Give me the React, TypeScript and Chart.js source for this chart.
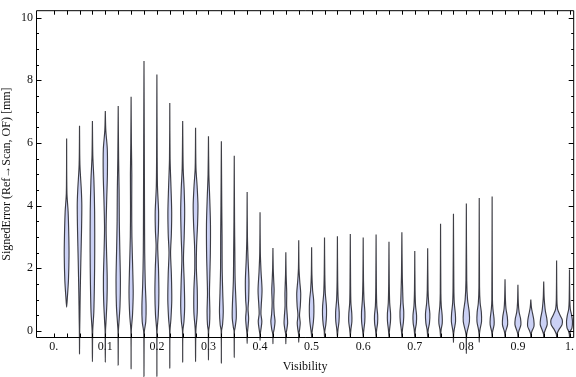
import React, { useEffect, useRef } from "react";
import { Chart, registerables } from "chart.js";

Chart.register(...registerables);

// Category positions (Visibility bins)
const visibility = [
  0.025, 0.05, 0.075, 0.1, 0.125, 0.15, 0.175, 0.2, 0.225, 0.25,
  0.275, 0.3, 0.325, 0.35, 0.375, 0.4, 0.425, 0.45, 0.475, 0.5,
  0.525, 0.55, 0.575, 0.6, 0.625, 0.65, 0.675, 0.7, 0.725, 0.75,
  0.775, 0.8, 0.825, 0.85, 0.875, 0.9, 0.925, 0.95, 0.975, 1.0,
];

// Violin outlines: [signed error (mm), relative density] from max down to min
const errorProfiles: number[][][] = [
  [[6.14,0],[4.4,0.3],[3.8,1.5],[3.0,2.2],[2.4,2.4],[1.6,1.8],[1.1,0.8],[0.76,0]],
  [[6.55,0],[5.3,0.4],[4.5,1.8],[4.0,2.3],[3.2,2.0],[2.2,1.3],[1.2,0.7],[0.4,0.35],[0,0.15],[-0.73,0]],
  [[6.70,0],[5.6,0.4],[4.8,1.5],[3.8,2.2],[2.5,2.3],[1.5,2.0],[0.6,1.4],[0,0.3],[-0.98,0]],
  [[7.02,0],[6.4,0.5],[5.8,2.0],[5.0,2.1],[4.2,1.4],[3.3,0.8],[2.6,1.2],[1.7,1.9],[1.0,1.7],[0.3,0.7],[0,0.2],[-1.0,0]],
  [[7.18,0],[5.5,0.4],[4.5,0.9],[3.5,1.1],[2.6,1.6],[1.6,2.2],[0.8,1.8],[0.2,0.6],[0,0.2],[-1.09,0]],
  [[7.47,0],[6.0,0.3],[5.0,0.7],[4.0,0.6],[3.0,0.8],[2.0,1.6],[1.2,2.1],[0.5,1.4],[0,0.2],[-1.21,0]],
  [[8.61,0],[6.0,0.3],[4.0,0.5],[2.5,0.7],[1.5,1.3],[0.8,2.1],[0.3,1.8],[0,0.4],[-0.2,0.15],[-1.45,0]],
  [[8.18,0],[5.5,0.3],[4.6,0.6],[3.8,1.7],[3.2,1.5],[2.7,0.8],[2.0,1.6],[1.2,2.0],[0.5,1.4],[0,0.2],[-1.45,0]],
  [[7.27,0],[5.5,0.3],[4.6,1.2],[3.8,1.9],[3.1,1.6],[2.5,0.8],[1.8,1.6],[1.0,2.0],[0.4,1.2],[0,0.2],[-1.19,0]],
  [[6.70,0],[5.2,0.5],[4.5,1.5],[3.8,2.0],[3.0,1.5],[2.3,0.8],[1.6,1.5],[0.8,2.0],[0.3,1.3],[0,0.2],[-1.0,0]],
  [[6.48,0],[5.2,0.4],[4.6,1.6],[4.0,2.4],[3.4,2.0],[2.7,1.0],[2.0,0.8],[1.3,1.7],[0.6,1.7],[0,0.3],[-0.98,0]],
  [[6.21,0],[5.0,0.4],[4.2,1.3],[3.4,2.0],[2.5,1.9],[1.8,1.4],[1.2,1.0],[0.6,1.4],[0.2,1.0],[0,0.2],[-0.93,0]],
  [[6.05,0],[4.0,0.4],[3.0,0.7],[2.0,0.8],[1.2,1.4],[0.6,1.9],[0.2,1.2],[0,0.2],[-1.03,0]],
  [[5.59,0],[3.5,0.3],[2.5,0.6],[1.6,0.9],[0.8,1.9],[0.4,2.0],[0.1,0.8],[0,0.2],[-0.85,0]],
  [[4.43,0],[3.0,0.3],[2.3,0.9],[1.6,1.8],[1.0,1.5],[0.7,0.9],[0.4,1.5],[0.1,0.8],[-0.1,0.2],[-0.4,0]],
  [[3.79,0],[2.5,0.3],[1.9,1.0],[1.3,2.0],[0.8,1.2],[0.55,0.9],[0.3,1.8],[0.05,0.9],[-0.1,0.2],[-0.3,0]],
  [[2.65,0],[2.0,0.3],[1.6,0.8],[1.3,1.2],[0.9,0.8],[0.55,1.3],[0.3,2.1],[0.05,1.2],[-0.1,0.2],[-0.41,0]],
  [[2.51,0],[1.8,0.3],[1.2,0.9],[0.8,0.8],[0.45,1.5],[0.25,1.8],[0.05,1.0],[-0.1,0.2],[-0.41,0]],
  [[2.89,0],[2.0,0.3],[1.6,1.0],[1.2,2.0],[0.8,1.6],[0.5,0.8],[0.25,1.5],[0.05,0.9],[-0.1,0.2],[-0.36,0]],
  [[2.67,0],[1.8,0.3],[1.3,1.0],[1.0,2.0],[0.6,2.3],[0.3,1.8],[0.05,0.8],[-0.1,0.2],[-0.2,0]],
  [[2.98,0],[1.8,0.3],[1.2,0.8],[0.8,1.9],[0.5,2.0],[0.2,1.3],[0,0.3],[-0.2,0]],
  [[3.02,0],[1.6,0.3],[1.0,0.8],[0.6,1.8],[0.3,1.6],[0.05,0.6],[-0.1,0.2],[-0.2,0]],
  [[3.09,0],[1.5,0.3],[0.9,0.6],[0.55,1.5],[0.3,1.6],[0.05,0.6],[-0.1,0.2],[-0.2,0]],
  [[2.98,0],[1.6,0.3],[1.0,0.8],[0.6,1.7],[0.3,1.6],[0.05,0.7],[-0.1,0.2],[-0.2,0]],
  [[3.08,0],[1.4,0.3],[0.8,0.7],[0.5,1.6],[0.25,1.5],[0.05,0.6],[-0.1,0.2],[-0.2,0]],
  [[2.85,0],[1.5,0.3],[0.9,0.7],[0.55,1.6],[0.3,1.5],[0.05,0.6],[-0.1,0.2],[-0.2,0]],
  [[3.15,0],[1.8,0.4],[1.3,0.8],[0.9,1.2],[0.6,1.9],[0.3,1.6],[0.05,0.6],[-0.1,0.2],[-0.2,0]],
  [[2.55,0],[1.3,0.3],[0.8,0.8],[0.5,1.8],[0.25,1.6],[0.05,0.6],[-0.1,0.2],[-0.2,0]],
  [[2.64,0],[1.3,0.4],[0.9,1.0],[0.55,2.2],[0.25,1.8],[0.05,0.6],[-0.1,0.2],[-0.2,0]],
  [[3.42,0],[1.2,0.3],[0.8,0.7],[0.5,1.6],[0.25,1.7],[0.05,0.6],[-0.1,0.2],[-0.2,0]],
  [[3.74,0],[1.4,0.4],[0.9,0.8],[0.55,1.9],[0.3,2.1],[0.05,0.8],[-0.1,0.2],[-0.37,0]],
  [[4.07,0],[1.6,0.4],[1.0,1.2],[0.6,2.9],[0.3,3.1],[0.0,1.0],[-0.15,0.2],[-0.72,0]],
  [[4.24,0],[1.4,0.3],[0.9,0.9],[0.6,2.1],[0.3,2.3],[0.05,0.8],[-0.1,0.2],[-0.36,0]],
  [[4.29,0],[1.0,0.3],[0.7,0.8],[0.4,1.9],[0.2,2.0],[0.0,0.6],[-0.1,0.2],[-0.2,0]],
  [[1.65,0],[1.0,0.4],[0.7,1.0],[0.45,2.3],[0.2,2.6],[0.0,0.8],[-0.1,0.2],[-0.2,0]],
  [[1.47,0],[0.9,0.4],[0.6,1.2],[0.4,2.6],[0.2,3.0],[0.0,1.0],[-0.1,0.2],[-0.2,0]],
  [[1.0,0],[0.75,0.6],[0.55,1.8],[0.35,3.0],[0.15,3.2],[0.0,1.2],[-0.1,0.2],[-0.2,0]],
  [[1.58,0],[1.1,0.4],[0.9,0.8],[0.65,1.6],[0.4,3.1],[0.2,3.5],[0.0,1.2],[-0.1,0.2],[-0.2,0]],
  [[2.25,0],[1.0,0.3],[0.7,1.0],[0.5,3.5],[0.35,5.7],[0.2,5.5],[0.05,2.5],[-0.1,0.3],[-0.2,0]],
  [[1.96,0],[1.0,0.3],[0.7,0.8],[0.5,2.2],[0.3,3.0],[0.1,2.5],[0.0,1.0],[-0.1,0.2],[-0.2,0]],
];

// Axis ticks
const xMajorTicks = [0, 0.1, 0.2, 0.3, 0.4, 0.5, 0.6, 0.7, 0.8, 0.9, 1.0];
const xTickLabels = ["0.", "0.1", "0.2", "0.3", "0.4", "0.5", "0.6", "0.7", "0.8", "0.9", "1."];
const xMinorTicks = [0, ...visibility];
const yMajorTicks = [0, 2, 4, 6, 8, 10];
const yTickLabels = ["0", "2", "4", "6", "8", "10"];
const yMinorTicks = [0.5, 1, 1.5, 2.5, 3, 3.5, 4.5, 5, 5.5, 6.5, 7, 7.5, 8.5, 9, 9.5];

const X_RANGE = [-0.0344, 1.0091];
const Y_RANGE = [-0.225, 10.235];
const DENSITY_TO_X = 1 / 517.5;

const FONT = "'Liberation Serif', 'Times New Roman', serif";
const FILL = "rgb(203, 209, 245)";
const EDGE = "rgba(30, 30, 38, 0.85)";

const framePlugin = {
  id: "mmaFrame",
  afterDatasetsDraw(chart: any) {
    const { ctx, chartArea: a, scales } = chart;
    const xs = scales.x;
    const ys = scales.y;
    const L = a.left + 0.5, R = a.right - 0.5, T = a.top + 0.5, B = a.bottom - 0.5;
    ctx.save();
    ctx.strokeStyle = "#000";
    ctx.lineWidth = 1;
    ctx.beginPath();
    ctx.rect(L, T, R - L, B - T);
    xMinorTicks.forEach((v) => {
      const px = Math.round(xs.getPixelForValue(v)) + 0.5;
      ctx.moveTo(px, B); ctx.lineTo(px, B - 4);
      ctx.moveTo(px, T); ctx.lineTo(px, T + 4);
    });
    yMajorTicks.forEach((v) => {
      const py = Math.round(ys.getPixelForValue(v)) + 0.5;
      ctx.moveTo(L, py); ctx.lineTo(L + 5, py);
      ctx.moveTo(R, py); ctx.lineTo(R - 5, py);
    });
    yMinorTicks.forEach((v) => {
      const py = Math.round(ys.getPixelForValue(v)) + 0.5;
      ctx.moveTo(L, py); ctx.lineTo(L + 2.5, py);
      ctx.moveTo(R, py); ctx.lineTo(R - 2.5, py);
    });
    ctx.stroke();
    ctx.restore();
  },
};

export default function App() {
  const ref = useRef<HTMLCanvasElement>(null);
  useEffect(() => {
    if (!ref.current) return;
    const datasets = visibility.map((v, i) => {
      const prof = errorProfiles[i];
      const right = prof.map(([e, d]) => ({ x: v + d * DENSITY_TO_X, y: e }));
      const left = prof.slice(1, -1).reverse().map(([e, d]) => ({ x: v - d * DENSITY_TO_X, y: e }));
      return {
        label: String(v),
        data: [...right, ...left, right[0]],
        showLine: true,
        fill: "shape",
        backgroundColor: FILL,
        borderColor: EDGE,
        borderWidth: 1.15,
        pointRadius: 0,
        pointHoverRadius: 0,
        tension: 0.3,
        clip: false,
      };
    });
    const chart = new Chart(ref.current, {
      type: "scatter",
      data: { datasets: datasets as any },
      options: {
        animation: false,
        responsive: false,
        events: [],
        layout: { padding: { top: 4, right: 0, left: 0, bottom: 0 } },
        elements: { line: { capBezierPoints: false } },
        plugins: { legend: { display: false }, tooltip: { enabled: false } },
        scales: {
          x: {
            type: "linear",
            min: X_RANGE[0],
            max: X_RANGE[1],
            grid: { display: false, drawTicks: false },
            border: { display: false },
            afterBuildTicks: (s: any) => { s.ticks = xMajorTicks.map((value) => ({ value })); },
            afterFit: (s: any) => { s.height = 39; },
            ticks: {
              autoSkip: false,
              maxRotation: 0,
              padding: 2,
              color: "#111",
              font: { family: FONT, size: 12 },
              callback: (_v: any, idx: number) => xTickLabels[idx],
            },
            title: {
              display: true,
              text: "Visibility",
              color: "#111",
              font: { family: FONT, size: 12 },
              padding: { top: 0, bottom: 3 },
            },
          },
          y: {
            type: "linear",
            min: Y_RANGE[0],
            max: Y_RANGE[1],
            grid: { display: false, drawTicks: false },
            border: { display: false },
            afterBuildTicks: (s: any) => { s.ticks = yMajorTicks.map((value) => ({ value })); },
            afterFit: (s: any) => { s.width = 36; },
            ticks: {
              padding: 3,
              color: "#111",
              font: { family: FONT, size: 12 },
              callback: (_v: any, idx: number) => yTickLabels[idx],
            },
            title: {
              display: true,
              text: "SignedError (Ref\u2192Scan, OF) [mm]",
              color: "#111",
              font: { family: FONT, size: 12 },
              padding: { top: 0, bottom: 0 },
            },
          },
        },
      },
      plugins: [framePlugin],
    });
    return () => chart.destroy();
  }, []);
  return (
    <div style={{ position: "fixed", left: 0, top: 0, width: 576, height: 377, background: "#fff" }}>
      <canvas ref={ref} width={576} height={377} style={{ display: "block" }} />
    </div>
  );
}
